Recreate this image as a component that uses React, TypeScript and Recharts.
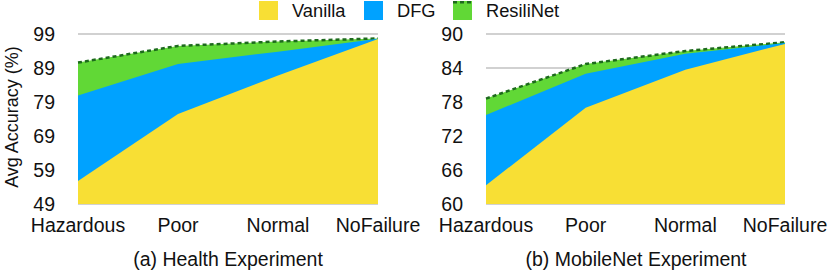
import { Area, AreaChart, CartesianGrid, XAxis, YAxis } from "recharts";

const categories = ["Hazardous", "Poor", "Normal", "NoFailure"];

const healthVanilla = [55.8, 75.5, 86.8, 97.5];
const healthDfg = [80.9, 90.2, 93.8, 97.6];
const healthResili = [90.6, 95.5, 96.8, 97.7];
const healthTicks = [49, 59, 69, 79, 89, 99];

const mobileVanilla = [63.3, 77.0, 83.7, 88.25];
const mobileDfg = [75.7, 83.0, 86.5, 88.4];
const mobileResili = [78.6, 84.7, 87.0, 88.55];
const mobileTicks = [60, 66, 72, 78, 84, 90];

const YELLOW = "#F8DF34";
const BLUE = "#00A2FF";
const GREEN = "#61D836";
const DARK_GREEN = "#1D6A1D";
const FONT = '"Liberation Sans", Arial, Helvetica, sans-serif';

function build(v: number[], d: number[], r: number[]) {
  return categories.map((c, i) => ({ name: c, vanilla: v[i], dfg: d[i], resili: r[i] }));
}

function Panel({
  data,
  ticks,
  axisWidth,
  width,
  marginRight,
}: {
  data: { name: string; vanilla: number; dfg: number; resili: number }[];
  ticks: number[];
  axisWidth: number;
  width: number;
  marginRight: number;
}) {
  const tickStyle = { fontSize: 19.5, fill: "#111", fontFamily: FONT };
  return (
    <AreaChart
      width={width}
      height={274}
      data={data}
      margin={{ top: 34, right: marginRight, bottom: 0, left: 0 }}
    >
      <CartesianGrid vertical={false} stroke="#C2C2C2" strokeWidth={1.5} />
      <XAxis
        dataKey="name"
        axisLine={false}
        tickLine={false}
        tickSize={0}
        tickMargin={14}
        height={70}
        interval={0}
        tick={tickStyle}
      />
      <YAxis
        domain={[ticks[0], ticks[ticks.length - 1]]}
        ticks={ticks}
        axisLine={false}
        tickLine={false}
        tickSize={0}
        tickMargin={23}
        width={axisWidth}
        tick={tickStyle}
      />
      <Area
        type="linear"
        dataKey="resili"
        fill={GREEN}
        fillOpacity={1}
        stroke={DARK_GREEN}
        strokeWidth={2.5}
        strokeDasharray="4 3"
        dot={false}
        activeDot={false}
        isAnimationActive={false}
      />
      <Area
        type="linear"
        dataKey="dfg"
        fill={BLUE}
        fillOpacity={1}
        stroke="none"
        dot={false}
        activeDot={false}
        isAnimationActive={false}
      />
      <Area
        type="linear"
        dataKey="vanilla"
        fill={YELLOW}
        fillOpacity={1}
        stroke="none"
        dot={false}
        activeDot={false}
        isAnimationActive={false}
      />
    </AreaChart>
  );
}

function Swatch({ color, dashed }: { color: string; dashed?: boolean }) {
  return (
    <svg width={19} height={19} style={{ display: "block" }}>
      <rect x={0} y={0} width={19} height={19} fill={color} />
      {dashed && (
        <line x1={0} y1={1.2} x2={19} y2={1.2} stroke={DARK_GREEN} strokeWidth={2.5} strokeDasharray="4 3" />
      )}
    </svg>
  );
}

export default function App() {
  const legend = [
    { label: "Vanilla", color: YELLOW, left: 259 },
    { label: "DFG", color: BLUE, left: 364 },
    { label: "ResiliNet", color: GREEN, left: 453, dashed: true },
  ];
  return (
    <div
      style={{
        position: "absolute",
        left: 0,
        top: 0,
        width: 830,
        height: 274,
        background: "#fff",
        fontFamily: FONT,
        overflow: "hidden",
      }}
    >
      <div style={{ position: "absolute", left: 0, top: 0 }}>
        <Panel
          data={build(healthVanilla, healthDfg, healthResili)}
          ticks={healthTicks}
          axisWidth={78}
          width={432}
          marginRight={54}
        />
      </div>
      <div style={{ position: "absolute", left: 415, top: 0 }}>
        <Panel
          data={build(mobileVanilla, mobileDfg, mobileResili)}
          ticks={mobileTicks}
          axisWidth={71}
          width={415}
          marginRight={45}
        />
      </div>
      {legend.map((l) => (
        <div
          key={l.label}
          style={{ position: "absolute", left: l.left, top: 1, display: "flex", alignItems: "center", gap: 14 }}
        >
          <Swatch color={l.color} dashed={l.dashed} />
          <span style={{ fontSize: 18.3, lineHeight: "19px", color: "#111" }}>{l.label}</span>
        </div>
      ))}
      <svg width={30} height={274} style={{ position: "absolute", left: 0, top: 0 }}>
        <text
          x={0}
          y={0}
          transform="translate(18,117) rotate(-90)"
          textAnchor="middle"
          fontSize={18}
          fill="#111"
          fontFamily={FONT}
        >
          Avg Accuracy (%)
        </text>
      </svg>
      <div style={{ position: "absolute", left: 28, width: 400, top: 248, textAlign: "center", fontSize: 19.5, color: "#111" }}>
        (a) Health Experiment
      </div>
      <div style={{ position: "absolute", left: 436, width: 400, top: 248, textAlign: "center", fontSize: 19.5, color: "#111" }}>
        (b) MobileNet Experiment
      </div>
    </div>
  );
}
